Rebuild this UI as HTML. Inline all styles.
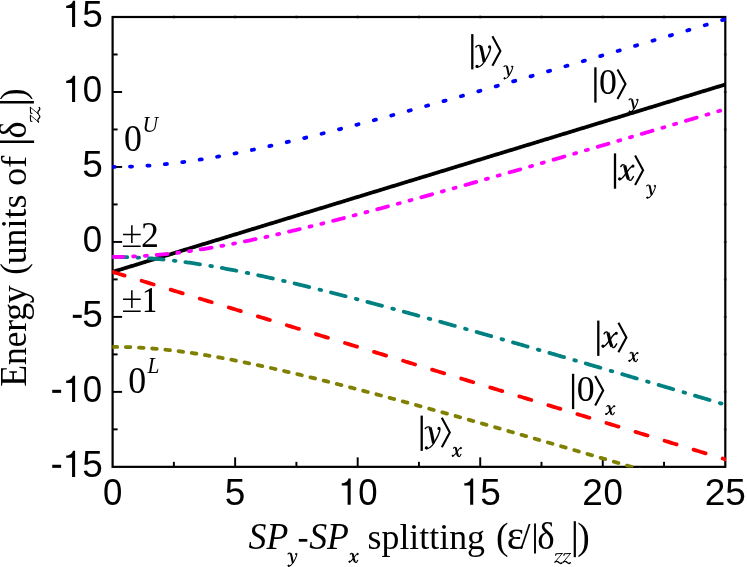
<!DOCTYPE html>
<html><head><meta charset="utf-8"><title>chart</title>
<style>
html,body{margin:0;padding:0;background:#fff;}
body{width:747px;height:567px;overflow:hidden;}
svg{display:block;will-change:transform;}
.sans{font-family:"Liberation Sans",sans-serif;}
.serif{font-family:"Liberation Serif",serif;}
.it{font-style:italic;}
</style></head><body>
<svg width="747" height="567" viewBox="0 0 747 567">
<rect x="0" y="0" width="747" height="567" fill="#ffffff"/>
<defs><g id="gx" fill="none" stroke="#000" stroke-linecap="round" stroke-linejoin="round"><path d="M2.2 -13.9 C3.0 -15.4 4.4 -16.0 5.8 -15.3" stroke-width="1.45"/><path d="M6.0 -14.9 C7.1 -12.3 7.3 -9.0 8.1 -6.4 C8.7 -4.2 9.2 -2.6 10.0 -1.3" stroke-width="3.20" stroke-linecap="butt"/><path d="M9.4 -2.4 C10.3 0.3 12.0 0.4 13.1 -1.2 L14.8 -3.9" stroke-width="1.45"/><path d="M14.2 -14.4 C12.0 -14.0 10.5 -11.5 8.3 -8.3 C6.0 -5.0 4.0 -2.0 1.2 -0.8" stroke-width="1.45"/><circle cx="14.4" cy="-14.4" r="0.95" stroke-width="1.2" fill="#000"/><circle cx="1.0" cy="-1.6" r="1.00" stroke-width="1.2" fill="#000"/></g><g id="gy" fill="none" stroke="#000" stroke-linecap="round" stroke-linejoin="round"><path d="M0.0 -14.2 C1.0 -15.6 2.6 -16.2 4.4 -15.5" stroke-width="1.45"/><path d="M4.7 -15.2 C6.2 -11.5 7.0 -5.0 8.3 0.6" stroke-width="3.10" stroke-linecap="butt"/><path d="M14.6 -13.0 C14.2 -9.5 11.0 -3.5 8.3 0.8 C6.5 3.6 4.0 5.8 1.4 5.9" stroke-width="1.40"/><circle cx="13.7" cy="-14.3" r="1.00" stroke-width="1.2" fill="#000"/><circle cx="1.1" cy="5.2" r="1.05" stroke-width="1.2" fill="#000"/></g><g id="gxs" fill="none" stroke="#000" stroke-linecap="round" stroke-linejoin="round"><path d="M2.2 -13.9 C3.0 -15.4 4.4 -16.0 5.8 -15.3" stroke-width="1.74"/><path d="M6.0 -14.9 C7.1 -12.3 7.3 -9.0 8.1 -6.4 C8.7 -4.2 9.2 -2.6 10.0 -1.3" stroke-width="3.46" stroke-linecap="butt"/><path d="M9.4 -2.4 C10.3 0.3 12.0 0.4 13.1 -1.2 L14.8 -3.9" stroke-width="1.74"/><path d="M14.2 -14.4 C12.0 -14.0 10.5 -11.5 8.3 -8.3 C6.0 -5.0 4.0 -2.0 1.2 -0.8" stroke-width="1.74"/><circle cx="14.4" cy="-14.4" r="1.14" stroke-width="1.2" fill="#000"/><circle cx="1.0" cy="-1.6" r="1.20" stroke-width="1.2" fill="#000"/></g><g id="gys" fill="none" stroke="#000" stroke-linecap="round" stroke-linejoin="round"><path d="M0.0 -14.2 C1.0 -15.6 2.6 -16.2 4.4 -15.5" stroke-width="1.74"/><path d="M4.7 -15.2 C6.2 -11.5 7.0 -5.0 8.3 0.6" stroke-width="3.35" stroke-linecap="butt"/><path d="M14.6 -13.0 C14.2 -9.5 11.0 -3.5 8.3 0.8 C6.5 3.6 4.0 5.8 1.4 5.9" stroke-width="1.68"/><circle cx="13.7" cy="-14.3" r="1.20" stroke-width="1.2" fill="#000"/><circle cx="1.1" cy="5.2" r="1.26" stroke-width="1.2" fill="#000"/></g><g id="gz" fill="none" stroke="#000" stroke-linecap="round" stroke-linejoin="round"><path d="M1.0 -7.7 L1.5 -9.2 L7.5 -9.4" stroke-width="1.15"/><path d="M7.5 -9.3 L0.4 -0.8" stroke-width="0.85"/><path d="M0.4 -0.8 C1.5 -1.9 3.0 -1.7 4.2 -0.5 C5.2 0.6 6.3 1.0 7.4 -0.1" stroke-width="1.35"/></g><clipPath id="c1"><rect x="3.6" y="-30" width="10.6" height="32"/></clipPath><clipPath id="cp"><rect x="112.40" y="16.20" width="613.70" height="451.30"/></clipPath></defs>

<g stroke="#000" fill="none" stroke-width="2.20">
<rect x="112.60" y="17.00" width="612.70" height="449.85"/>
</g>
<g stroke="#000" stroke-width="1.95">
<line x1="112.60" y1="429.36" x2="117.60" y2="429.36"/>
<line x1="723.80" y1="429.36" x2="726.80" y2="429.36" stroke-opacity="0.45"/>
<line x1="112.60" y1="391.88" x2="122.10" y2="391.88"/>
<line x1="723.80" y1="391.88" x2="726.80" y2="391.88" stroke-opacity="0.45"/>
<line x1="112.60" y1="354.39" x2="117.60" y2="354.39"/>
<line x1="723.80" y1="354.39" x2="726.80" y2="354.39" stroke-opacity="0.45"/>
<line x1="112.60" y1="316.90" x2="122.10" y2="316.90"/>
<line x1="723.80" y1="316.90" x2="726.80" y2="316.90" stroke-opacity="0.45"/>
<line x1="112.60" y1="279.41" x2="117.60" y2="279.41"/>
<line x1="723.80" y1="279.41" x2="726.80" y2="279.41" stroke-opacity="0.45"/>
<line x1="112.60" y1="241.93" x2="122.10" y2="241.93"/>
<line x1="723.80" y1="241.93" x2="726.80" y2="241.93" stroke-opacity="0.45"/>
<line x1="112.60" y1="204.44" x2="117.60" y2="204.44"/>
<line x1="723.80" y1="204.44" x2="726.80" y2="204.44" stroke-opacity="0.45"/>
<line x1="112.60" y1="166.95" x2="122.10" y2="166.95"/>
<line x1="723.80" y1="166.95" x2="726.80" y2="166.95" stroke-opacity="0.45"/>
<line x1="112.60" y1="129.46" x2="117.60" y2="129.46"/>
<line x1="723.80" y1="129.46" x2="726.80" y2="129.46" stroke-opacity="0.45"/>
<line x1="112.60" y1="91.98" x2="122.10" y2="91.98"/>
<line x1="723.80" y1="91.98" x2="726.80" y2="91.98" stroke-opacity="0.45"/>
<line x1="112.60" y1="54.49" x2="117.60" y2="54.49"/>
<line x1="723.80" y1="54.49" x2="726.80" y2="54.49" stroke-opacity="0.45"/>
<line x1="173.87" y1="466.85" x2="173.87" y2="461.85"/>
<line x1="173.87" y1="15.50" x2="173.87" y2="18.50" stroke-opacity="0.45"/>
<line x1="235.14" y1="466.85" x2="235.14" y2="457.35"/>
<line x1="235.14" y1="15.50" x2="235.14" y2="18.50" stroke-opacity="0.45"/>
<line x1="296.41" y1="466.85" x2="296.41" y2="461.85"/>
<line x1="296.41" y1="15.50" x2="296.41" y2="18.50" stroke-opacity="0.45"/>
<line x1="357.68" y1="466.85" x2="357.68" y2="457.35"/>
<line x1="357.68" y1="15.50" x2="357.68" y2="18.50" stroke-opacity="0.45"/>
<line x1="418.95" y1="466.85" x2="418.95" y2="461.85"/>
<line x1="418.95" y1="15.50" x2="418.95" y2="18.50" stroke-opacity="0.45"/>
<line x1="480.22" y1="466.85" x2="480.22" y2="457.35"/>
<line x1="480.22" y1="15.50" x2="480.22" y2="18.50" stroke-opacity="0.45"/>
<line x1="541.49" y1="466.85" x2="541.49" y2="461.85"/>
<line x1="541.49" y1="15.50" x2="541.49" y2="18.50" stroke-opacity="0.45"/>
<line x1="602.76" y1="466.85" x2="602.76" y2="457.35"/>
<line x1="602.76" y1="15.50" x2="602.76" y2="18.50" stroke-opacity="0.45"/>
<line x1="664.03" y1="466.85" x2="664.03" y2="461.85"/>
<line x1="664.03" y1="15.50" x2="664.03" y2="18.50" stroke-opacity="0.45"/>
</g>
<g clip-path="url(#cp)" fill="none" stroke-linecap="round" stroke-linejoin="round" stroke-width="3.80">
<path d="M112.60 271.92 L114.60 271.30 L116.59 270.69 L118.59 270.08 L120.58 269.47 L122.58 268.86 L124.57 268.25 L126.57 267.64 L128.57 267.03 L130.56 266.42 L132.56 265.81 L134.55 265.20 L136.55 264.59 L138.54 263.98 L140.54 263.37 L142.54 262.76 L144.53 262.15 L146.53 261.54 L148.52 260.93 L150.52 260.31 L152.52 259.70 L154.51 259.09 L156.51 258.48 L158.50 257.87 L160.50 257.26 L162.49 256.65 L164.49 256.04 L166.49 255.43 L168.48 254.82 L170.48 254.21 L172.47 253.60 L174.47 252.99 L176.46 252.38 L178.46 251.77 L180.46 251.16 L182.45 250.55 L184.45 249.94 L186.44 249.32 L188.44 248.71 L190.43 248.10 L192.43 247.49 L194.43 246.88 L196.42 246.27 L198.42 245.66 L200.41 245.05 L202.41 244.44 L204.41 243.83 L206.40 243.22 L208.40 242.61 L210.39 242.00 L212.39 241.39 L214.38 240.78 L216.38 240.17 L218.38 239.56 L220.37 238.95 L222.37 238.33 L224.36 237.72 L226.36 237.11 L228.35 236.50 L230.35 235.89 L232.35 235.28 L234.34 234.67 L236.34 234.06 L238.33 233.45 L240.33 232.84 L242.32 232.23 L244.32 231.62 L246.32 231.01 L248.31 230.40 L250.31 229.79 L252.30 229.18 L254.30 228.57 L256.30 227.96 L258.29 227.35 L260.29 226.73 L262.28 226.12 L264.28 225.51 L266.27 224.90 L268.27 224.29 L270.27 223.68 L272.26 223.07 L274.26 222.46 L276.25 221.85 L278.25 221.24 L280.24 220.63 L282.24 220.02 L284.24 219.41 L286.23 218.80 L288.23 218.19 L290.22 217.58 L292.22 216.97 L294.21 216.36 L296.21 215.74 L298.21 215.13 L300.20 214.52 L302.20 213.91 L304.19 213.30 L306.19 212.69 L308.19 212.08 L310.18 211.47 L312.18 210.86 L314.17 210.25 L316.17 209.64 L318.16 209.03 L320.16 208.42 L322.16 207.81 L324.15 207.20 L326.15 206.59 L328.14 205.98 L330.14 205.37 L332.13 204.75 L334.13 204.14 L336.13 203.53 L338.12 202.92 L340.12 202.31 L342.11 201.70 L344.11 201.09 L346.10 200.48 L348.10 199.87 L350.10 199.26 L352.09 198.65 L354.09 198.04 L356.08 197.43 L358.08 196.82 L360.07 196.21 L362.07 195.60 L364.07 194.99 L366.06 194.38 L368.06 193.77 L370.05 193.15 L372.05 192.54 L374.05 191.93 L376.04 191.32 L378.04 190.71 L380.03 190.10 L382.03 189.49 L384.02 188.88 L386.02 188.27 L388.02 187.66 L390.01 187.05 L392.01 186.44 L394.00 185.83 L396.00 185.22 L397.99 184.61 L399.99 184.00 L401.99 183.39 L403.98 182.78 L405.98 182.16 L407.97 181.55 L409.97 180.94 L411.96 180.33 L413.96 179.72 L415.96 179.11 L417.95 178.50 L419.95 177.89 L421.94 177.28 L423.94 176.67 L425.94 176.06 L427.93 175.45 L429.93 174.84 L431.92 174.23 L433.92 173.62 L435.91 173.01 L437.91 172.40 L439.91 171.79 L441.90 171.17 L443.90 170.56 L445.89 169.95 L447.89 169.34 L449.88 168.73 L451.88 168.12 L453.88 167.51 L455.87 166.90 L457.87 166.29 L459.86 165.68 L461.86 165.07 L463.85 164.46 L465.85 163.85 L467.85 163.24 L469.84 162.63 L471.84 162.02 L473.83 161.41 L475.83 160.80 L477.83 160.19 L479.82 159.57 L481.82 158.96 L483.81 158.35 L485.81 157.74 L487.80 157.13 L489.80 156.52 L491.80 155.91 L493.79 155.30 L495.79 154.69 L497.78 154.08 L499.78 153.47 L501.77 152.86 L503.77 152.25 L505.77 151.64 L507.76 151.03 L509.76 150.42 L511.75 149.81 L513.75 149.20 L515.74 148.58 L517.74 147.97 L519.74 147.36 L521.73 146.75 L523.73 146.14 L525.72 145.53 L527.72 144.92 L529.71 144.31 L531.71 143.70 L533.71 143.09 L535.70 142.48 L537.70 141.87 L539.69 141.26 L541.69 140.65 L543.69 140.04 L545.68 139.43 L547.68 138.82 L549.67 138.21 L551.67 137.59 L553.66 136.98 L555.66 136.37 L557.66 135.76 L559.65 135.15 L561.65 134.54 L563.64 133.93 L565.64 133.32 L567.63 132.71 L569.63 132.10 L571.63 131.49 L573.62 130.88 L575.62 130.27 L577.61 129.66 L579.61 129.05 L581.60 128.44 L583.60 127.83 L585.60 127.22 L587.59 126.61 L589.59 125.99 L591.58 125.38 L593.58 124.77 L595.58 124.16 L597.57 123.55 L599.57 122.94 L601.56 122.33 L603.56 121.72 L605.55 121.11 L607.55 120.50 L609.55 119.89 L611.54 119.28 L613.54 118.67 L615.53 118.06 L617.53 117.45 L619.52 116.84 L621.52 116.23 L623.52 115.62 L625.51 115.00 L627.51 114.39 L629.50 113.78 L631.50 113.17 L633.49 112.56 L635.49 111.95 L637.49 111.34 L639.48 110.73 L641.48 110.12 L643.47 109.51 L645.47 108.90 L647.47 108.29 L649.46 107.68 L651.46 107.07 L653.45 106.46 L655.45 105.85 L657.44 105.24 L659.44 104.63 L661.44 104.01 L663.43 103.40 L665.43 102.79 L667.42 102.18 L669.42 101.57 L671.41 100.96 L673.41 100.35 L675.41 99.74 L677.40 99.13 L679.40 98.52 L681.39 97.91 L683.39 97.30 L685.38 96.69 L687.38 96.08 L689.38 95.47 L691.37 94.86 L693.37 94.25 L695.36 93.64 L697.36 93.03 L699.36 92.41 L701.35 91.80 L703.35 91.19 L705.34 90.58 L707.34 89.97 L709.33 89.36 L711.33 88.75 L713.33 88.14 L715.32 87.53 L717.32 86.92 L719.31 86.31 L721.31 85.70 L723.30 85.09 L725.30 84.48" stroke="#000000" stroke-linecap="butt"/>
<path d="M112.60 271.92 L114.10 272.37 L115.60 272.83 L117.10 273.29 L118.60 273.75 L120.10 274.21 L121.60 274.67 L123.10 275.13 L124.60 275.59 M141.65 280.80 L143.15 281.26 L144.65 281.72 L146.15 282.18 L147.65 282.64 L149.15 283.10 L150.65 283.56 L152.15 284.01 L153.65 284.47 M170.70 289.69 L172.20 290.15 L173.70 290.61 L175.20 291.07 L176.70 291.52 L178.20 291.98 L179.70 292.44 L181.20 292.90 L182.70 293.36 M199.75 298.58 L201.25 299.03 L202.75 299.49 L204.25 299.95 L205.75 300.41 L207.25 300.87 L208.75 301.33 L210.25 301.79 L211.75 302.25 M228.80 307.46 L230.30 307.92 L231.80 308.38 L233.30 308.84 L234.80 309.30 L236.30 309.76 L237.80 310.22 L239.30 310.68 L240.80 311.13 M257.85 316.35 L259.35 316.81 L260.85 317.27 L262.35 317.73 L263.85 318.19 L265.35 318.64 L266.85 319.10 L268.35 319.56 L269.85 320.02 M286.90 325.24 L288.40 325.70 L289.90 326.15 L291.40 326.61 L292.90 327.07 L294.40 327.53 L295.90 327.99 L297.40 328.45 L298.90 328.91 M315.95 334.12 L317.45 334.58 L318.95 335.04 L320.45 335.50 L321.95 335.96 L323.45 336.42 L324.95 336.88 L326.45 337.34 L327.95 337.79 M345.00 343.01 L346.50 343.47 L348.00 343.93 L349.50 344.39 L351.00 344.85 L352.50 345.31 L354.00 345.76 L355.50 346.22 L357.00 346.68 M374.05 351.90 L375.55 352.36 L377.05 352.82 L378.55 353.27 L380.05 353.73 L381.55 354.19 L383.05 354.65 L384.55 355.11 L386.05 355.57 M403.10 360.78 L404.60 361.24 L406.10 361.70 L407.60 362.16 L409.10 362.62 L410.60 363.08 L412.10 363.54 L413.60 364.00 L415.10 364.46 M432.15 369.67 L433.65 370.13 L435.15 370.59 L436.65 371.05 L438.15 371.51 L439.65 371.97 L441.15 372.43 L442.65 372.88 L444.15 373.34 M461.20 378.56 L462.70 379.02 L464.20 379.48 L465.70 379.94 L467.20 380.39 L468.70 380.85 L470.20 381.31 L471.70 381.77 L473.20 382.23 M490.25 387.45 L491.75 387.90 L493.25 388.36 L494.75 388.82 L496.25 389.28 L497.75 389.74 L499.25 390.20 L500.75 390.66 L502.25 391.12 M519.30 396.33 L520.80 396.79 L522.30 397.25 L523.80 397.71 L525.30 398.17 L526.80 398.63 L528.30 399.09 L529.80 399.55 L531.30 400.00 M548.35 405.22 L549.85 405.68 L551.35 406.14 L552.85 406.60 L554.35 407.06 L555.85 407.51 L557.35 407.97 L558.85 408.43 L560.35 408.89 M577.40 414.11 L578.90 414.57 L580.40 415.02 L581.90 415.48 L583.40 415.94 L584.90 416.40 L586.40 416.86 L587.90 417.32 L589.40 417.78 M606.45 422.99 L607.95 423.45 L609.45 423.91 L610.95 424.37 L612.45 424.83 L613.95 425.29 L615.45 425.75 L616.95 426.21 L618.45 426.66 M635.50 431.88 L637.00 432.34 L638.50 432.80 L640.00 433.26 L641.50 433.72 L643.00 434.18 L644.50 434.63 L646.00 435.09 L647.50 435.55 M664.55 440.77 L666.05 441.23 L667.55 441.69 L669.05 442.14 L670.55 442.60 L672.05 443.06 L673.55 443.52 L675.05 443.98 L676.55 444.44 M693.60 449.65 L695.10 450.11 L696.60 450.57 L698.10 451.03 L699.60 451.49 L701.10 451.95 L702.60 452.41 L704.10 452.87 L705.60 453.33 M722.65 458.54 L723.98 458.95 L725.30 459.35" stroke="#ff0000"/>
<path d="M112.60 166.95 L113.65 166.95 L114.70 166.95 M130.01 166.64 L131.06 166.60 L132.11 166.56 M147.43 165.71 L148.48 165.63 L149.53 165.55 M164.84 164.20 L165.89 164.09 L166.94 163.98 M182.26 162.16 L183.31 162.02 L184.36 161.88 M199.67 159.65 L200.72 159.49 L201.77 159.32 M217.09 156.75 L218.14 156.56 L219.19 156.37 M234.50 153.50 L235.56 153.30 L236.60 153.09 M251.92 149.97 L252.97 149.74 L254.02 149.52 M269.33 146.19 L270.38 145.95 L271.44 145.72 M286.75 142.21 L287.80 141.96 L288.85 141.71 M304.16 138.06 L305.21 137.80 L306.26 137.55 M321.58 133.76 L322.63 133.50 L323.68 133.24 M339.00 129.35 L340.05 129.08 L341.10 128.81 M356.41 124.83 L357.46 124.56 L358.51 124.28 M373.82 120.23 L374.87 119.95 L375.92 119.67 M391.24 115.55 L392.29 115.27 L393.34 114.98 M408.65 110.81 L409.70 110.52 L410.75 110.23 M426.07 106.01 L427.12 105.72 L428.17 105.43 M443.49 101.16 L444.54 100.87 L445.59 100.58 M460.90 96.28 L461.95 95.98 L463.00 95.68 M478.31 91.35 L479.36 91.05 L480.41 90.75 M495.73 86.39 L496.78 86.09 L497.83 85.79 M513.14 81.40 L514.19 81.10 L515.25 80.80 M530.56 76.39 L531.61 76.09 L532.66 75.78 M547.98 71.35 L549.03 71.05 L550.08 70.74 M565.39 66.30 L566.44 65.99 L567.49 65.68 M582.80 61.22 L583.86 60.91 L584.90 60.61 M600.22 56.13 L601.27 55.82 L602.32 55.51 M617.63 51.02 L618.68 50.71 L619.74 50.40 M635.05 45.90 L636.10 45.59 L637.15 45.28 M652.47 40.76 L653.52 40.45 L654.57 40.14 M669.88 35.62 L670.93 35.31 L671.98 35.00 M687.29 30.46 L688.35 30.15 L689.39 29.84 M704.71 25.29 L705.76 24.98 L706.81 24.67 M722.12 20.12 L723.17 19.81 L724.23 19.49" stroke="#0000ff"/>
<path d="M112.60 256.92 L114.06 256.92 L115.52 256.93 L116.98 256.94 L118.44 256.96 L119.90 256.98 L121.36 257.00 L122.82 257.03 L124.28 257.06 L125.74 257.10 L127.20 257.14 M137.50 257.56 L138.30 257.60 L139.10 257.64 M149.00 258.28 L150.46 258.39 L151.92 258.50 L153.38 258.62 L154.84 258.74 L156.30 258.86 L157.76 258.99 L159.22 259.13 L160.68 259.26 L162.14 259.40 L163.60 259.55 M173.90 260.67 L174.70 260.77 L175.50 260.86 M185.40 262.13 L186.86 262.33 L188.32 262.53 L189.78 262.74 L191.24 262.95 L192.70 263.16 L194.16 263.38 L195.62 263.59 L197.08 263.82 L198.54 264.04 L200.00 264.27 M210.30 265.94 L211.10 266.08 L211.90 266.22 M221.80 267.97 L223.26 268.23 L224.72 268.50 L226.18 268.78 L227.64 269.05 L229.10 269.33 L230.56 269.61 L232.02 269.89 L233.48 270.17 L234.94 270.45 L236.40 270.74 M246.70 272.82 L247.50 272.98 L248.30 273.15 M258.20 275.24 L259.66 275.56 L261.12 275.87 L262.58 276.19 L264.04 276.51 L265.50 276.83 L266.96 277.15 L268.42 277.48 L269.88 277.80 L271.34 278.13 L272.80 278.46 M283.10 280.81 L283.90 281.00 L284.70 281.18 M294.60 283.51 L296.06 283.86 L297.52 284.21 L298.98 284.56 L300.44 284.91 L301.90 285.27 L303.36 285.62 L304.82 285.97 L306.28 286.33 L307.74 286.68 L309.20 287.04 M319.50 289.59 L320.30 289.79 L321.10 289.99 M331.00 292.48 L332.46 292.85 L333.92 293.22 L335.38 293.60 L336.84 293.97 L338.30 294.34 L339.76 294.72 L341.22 295.09 L342.68 295.47 L344.14 295.85 L345.60 296.22 M355.90 298.90 L356.70 299.11 L357.50 299.32 M367.40 301.93 L368.86 302.32 L370.32 302.71 L371.78 303.10 L373.24 303.48 L374.70 303.87 L376.16 304.26 L377.62 304.65 L379.08 305.04 L380.54 305.44 L382.00 305.83 M392.30 308.61 L393.10 308.82 L393.90 309.04 M403.80 311.73 L405.26 312.13 L406.72 312.53 L408.18 312.93 L409.64 313.33 L411.10 313.73 L412.56 314.13 L414.02 314.53 L415.48 314.94 L416.94 315.34 L418.40 315.74 M428.70 318.59 L429.50 318.81 L430.30 319.03 M440.20 321.79 L441.66 322.20 L443.12 322.60 L444.58 323.01 L446.04 323.42 L447.50 323.83 L448.96 324.24 L450.42 324.65 L451.88 325.06 L453.34 325.47 L454.80 325.88 M465.10 328.78 L465.90 329.00 L466.70 329.23 M476.60 332.03 L478.06 332.45 L479.52 332.86 L480.98 333.28 L482.44 333.69 L483.90 334.11 L485.36 334.52 L486.82 334.94 L488.28 335.35 L489.74 335.77 L491.20 336.19 M501.50 339.13 L502.30 339.36 L503.10 339.59 M513.00 342.42 L514.46 342.84 L515.92 343.26 L517.38 343.68 L518.84 344.10 L520.30 344.52 L521.76 344.94 L523.22 345.36 L524.68 345.78 L526.14 346.21 L527.60 346.63 M537.90 349.60 L538.70 349.83 L539.50 350.06 M549.40 352.93 L550.86 353.35 L552.32 353.78 L553.78 354.20 L555.24 354.62 L556.70 355.05 L558.16 355.47 L559.62 355.90 L561.08 356.32 L562.54 356.75 L564.00 357.17 M574.30 360.17 L575.10 360.40 L575.90 360.64 M585.80 363.53 L587.26 363.95 L588.72 364.38 L590.18 364.81 L591.64 365.23 L593.10 365.66 L594.56 366.09 L596.02 366.51 L597.48 366.94 L598.94 367.37 L600.40 367.80 M610.70 370.82 L611.50 371.05 L612.30 371.29 M622.20 374.19 L623.66 374.62 L625.12 375.05 L626.58 375.48 L628.04 375.91 L629.50 376.34 L630.96 376.77 L632.42 377.20 L633.88 377.63 L635.34 378.06 L636.80 378.49 M647.10 381.52 L647.90 381.76 L648.70 382.00 M658.60 384.92 L660.06 385.35 L661.52 385.78 L662.98 386.21 L664.44 386.64 L665.90 387.08 L667.36 387.51 L668.82 387.94 L670.28 388.37 L671.74 388.80 L673.20 389.24 M683.50 392.29 L684.30 392.52 L685.10 392.76 M695.00 395.69 L696.46 396.13 L697.92 396.56 L699.38 396.99 L700.84 397.43 L702.30 397.86 L703.76 398.29 L705.22 398.73 L706.68 399.16 L708.14 399.59 L709.60 400.03 M719.90 403.09 L720.70 403.33 L721.50 403.56" stroke="#008080"/>
<path d="M112.60 256.92 L113.95 256.92 L115.30 256.91 L116.65 256.90 L118.00 256.89 L119.35 256.87 L120.70 256.85 L122.05 256.83 L123.40 256.80 M133.15 256.48 L134.15 256.44 L135.15 256.39 M144.90 255.85 L145.90 255.78 L146.90 255.71 M156.70 254.94 L158.05 254.82 L159.40 254.70 L160.75 254.57 L162.10 254.44 L163.45 254.31 L164.80 254.17 L166.15 254.03 L167.50 253.89 M177.25 252.76 L178.25 252.64 L179.25 252.51 M189.00 251.21 L190.00 251.07 L191.00 250.93 M200.80 249.45 L202.15 249.23 L203.50 249.02 L204.85 248.80 L206.20 248.58 L207.55 248.36 L208.90 248.13 L210.25 247.90 L211.60 247.67 M221.35 245.95 L222.35 245.77 L223.35 245.59 M233.10 243.75 L234.10 243.55 L235.10 243.36 M244.90 241.39 L246.25 241.12 L247.60 240.84 L248.95 240.56 L250.30 240.28 L251.65 239.99 L253.00 239.71 L254.35 239.42 L255.70 239.13 M265.45 237.02 L266.45 236.80 L267.45 236.58 M277.20 234.38 L278.20 234.15 L279.20 233.93 M289.00 231.65 L290.35 231.33 L291.70 231.01 L293.05 230.69 L294.40 230.37 L295.75 230.05 L297.10 229.73 L298.45 229.41 L299.80 229.08 M309.55 226.71 L310.55 226.47 L311.55 226.22 M321.30 223.80 L322.30 223.55 L323.30 223.30 M333.10 220.83 L334.45 220.48 L335.80 220.14 L337.15 219.79 L338.50 219.45 L339.85 219.10 L341.20 218.75 L342.55 218.40 L343.90 218.06 M353.65 215.52 L354.65 215.26 L355.65 215.00 M365.40 212.44 L366.40 212.17 L367.40 211.91 M377.20 209.30 L378.55 208.94 L379.90 208.58 L381.25 208.21 L382.60 207.85 L383.95 207.49 L385.30 207.12 L386.65 206.76 L388.00 206.40 M397.75 203.76 L398.75 203.48 L399.75 203.21 M409.50 200.55 L410.50 200.27 L411.50 200.00 M421.30 197.30 L422.65 196.93 L424.00 196.55 L425.35 196.18 L426.70 195.81 L428.05 195.43 L429.40 195.06 L430.75 194.68 L432.10 194.31 M441.85 191.59 L442.85 191.31 L443.85 191.03 M453.60 188.30 L454.60 188.02 L455.60 187.74 M465.40 184.98 L466.75 184.60 L468.10 184.21 L469.45 183.83 L470.80 183.45 L472.15 183.07 L473.50 182.69 L474.85 182.30 L476.20 181.92 M485.95 179.15 L486.95 178.87 L487.95 178.58 M497.70 175.80 L498.70 175.51 L499.70 175.23 M509.50 172.42 L510.85 172.03 L512.20 171.64 L513.55 171.26 L514.90 170.87 L516.25 170.48 L517.60 170.09 L518.95 169.71 L520.30 169.32 M530.05 166.51 L531.05 166.22 L532.05 165.93 M541.80 163.11 L542.80 162.82 L543.80 162.53 M553.60 159.69 L554.95 159.30 L556.30 158.91 L557.65 158.52 L559.00 158.12 L560.35 157.73 L561.70 157.34 L563.05 156.95 L564.40 156.55 M574.15 153.71 L575.15 153.42 L576.15 153.13 M585.90 150.29 L586.90 149.99 L587.90 149.70 M597.70 146.83 L599.05 146.44 L600.40 146.04 L601.75 145.65 L603.10 145.25 L604.45 144.86 L605.80 144.46 L607.15 144.07 L608.50 143.67 M618.25 140.81 L619.25 140.51 L620.25 140.22 M630.00 137.35 L631.00 137.06 L632.00 136.76 M641.80 133.88 L643.15 133.48 L644.50 133.08 L645.85 132.68 L647.20 132.29 L648.55 131.89 L649.90 131.49 L651.25 131.09 L652.60 130.69 M662.35 127.81 L663.35 127.52 L664.35 127.22 M674.10 124.34 L675.10 124.04 L676.10 123.75 M685.90 120.84 L687.25 120.44 L688.60 120.04 L689.95 119.64 L691.30 119.24 L692.65 118.84 L694.00 118.44 L695.35 118.04 L696.70 117.64 M706.45 114.75 L707.45 114.45 L708.45 114.15 M718.20 111.26 L719.20 110.96 L720.20 110.66" stroke="#ff00ff"/>
<path d="M112.60 346.89 L113.75 346.89 L114.90 346.90 L116.05 346.90 L117.20 346.91 M125.79 347.07 L126.94 347.10 L128.09 347.14 L129.24 347.18 L130.39 347.22 M138.98 347.61 L140.13 347.67 L141.28 347.74 L142.43 347.81 L143.58 347.88 M152.17 348.49 L153.32 348.58 L154.47 348.68 L155.62 348.78 L156.77 348.88 M165.36 349.70 L166.51 349.82 L167.66 349.94 L168.81 350.06 L169.96 350.19 M178.55 351.21 L179.70 351.35 L180.85 351.50 L182.00 351.65 L183.15 351.80 M191.74 352.99 L192.89 353.16 L194.04 353.33 L195.19 353.50 L196.34 353.67 M204.93 355.02 L206.08 355.21 L207.23 355.40 L208.38 355.59 L209.53 355.78 M218.12 357.27 L219.27 357.48 L220.42 357.69 L221.57 357.90 L222.72 358.11 M231.31 359.72 L232.46 359.94 L233.61 360.16 L234.76 360.39 L235.91 360.61 M244.50 362.34 L245.65 362.57 L246.80 362.81 L247.95 363.05 L249.10 363.28 M257.69 365.10 L258.84 365.35 L259.99 365.60 L261.14 365.85 L262.29 366.10 M270.88 368.00 L272.03 368.26 L273.18 368.51 L274.33 368.77 L275.48 369.04 M284.07 371.01 L285.22 371.28 L286.37 371.54 L287.52 371.81 L288.67 372.08 M297.26 374.12 L298.41 374.39 L299.56 374.67 L300.71 374.95 L301.86 375.23 M310.45 377.32 L311.60 377.60 L312.75 377.88 L313.90 378.17 L315.05 378.45 M323.64 380.59 L324.79 380.88 L325.94 381.17 L327.09 381.46 L328.24 381.75 M336.83 383.94 L337.98 384.23 L339.13 384.53 L340.28 384.82 L341.43 385.12 M350.02 387.34 L351.17 387.64 L352.32 387.94 L353.47 388.24 L354.62 388.54 M363.21 390.80 L364.36 391.10 L365.51 391.40 L366.66 391.71 L367.81 392.01 M376.40 394.30 L377.55 394.61 L378.70 394.91 L379.85 395.22 L381.00 395.53 M389.59 397.84 L390.74 398.15 L391.89 398.46 L393.04 398.78 L394.19 399.09 M402.78 401.42 L403.93 401.74 L405.08 402.05 L406.23 402.37 L407.38 402.68 M415.97 405.04 L417.12 405.36 L418.27 405.67 L419.42 405.99 L420.57 406.31 M429.16 408.69 L430.31 409.00 L431.46 409.32 L432.61 409.64 L433.76 409.96 M442.35 412.36 L443.50 412.68 L444.65 413.00 L445.80 413.32 L446.95 413.64 M455.54 416.06 L456.69 416.38 L457.84 416.70 L458.99 417.03 L460.14 417.35 M468.73 419.77 L469.88 420.10 L471.03 420.43 L472.18 420.75 L473.33 421.08 M481.92 423.51 L483.07 423.84 L484.22 424.17 L485.37 424.50 L486.52 424.82 M495.11 427.27 L496.26 427.60 L497.41 427.93 L498.56 428.26 L499.71 428.59 M508.30 431.05 L509.45 431.38 L510.60 431.71 L511.75 432.04 L512.90 432.37 M521.49 434.84 L522.64 435.17 L523.79 435.50 L524.94 435.83 L526.09 436.16 M534.68 438.64 L535.83 438.97 L536.98 439.30 L538.13 439.64 L539.28 439.97 M547.87 442.46 L549.02 442.79 L550.17 443.12 L551.32 443.46 L552.47 443.79 M561.06 446.29 L562.21 446.62 L563.36 446.95 L564.51 447.29 L565.66 447.62 M574.25 450.12 L575.40 450.46 L576.55 450.80 L577.70 451.13 L578.85 451.47 M587.44 453.97 L588.59 454.31 L589.74 454.65 L590.89 454.98 L592.04 455.32 M600.63 457.83 L601.78 458.17 L602.93 458.51 L604.08 458.84 L605.23 459.18 M613.82 461.70 L614.97 462.04 L616.12 462.38 L617.27 462.71 L618.42 463.05 M627.01 465.58 L628.16 465.92 L629.31 466.25 L630.46 466.59 L631.61 466.93 M640.20 469.46 L641.35 469.80 L642.50 470.14 L643.65 470.48 L644.80 470.82 M653.39 473.35 L654.54 473.69 L655.69 474.03 L656.84 474.37 L657.99 474.71 M666.58 477.25 L667.73 477.59 L668.88 477.93 L670.03 478.27 L671.18 478.61 M679.77 481.15 L680.92 481.49 L682.07 481.83 L683.22 482.17 L684.37 482.51 M692.96 485.06 L694.11 485.40 L695.26 485.74 L696.41 486.08 L697.56 486.42 M706.15 488.97 L707.30 489.32 L708.45 489.66 L709.60 490.00 L710.75 490.34 M719.34 492.89 L720.49 493.23 L721.64 493.58 L722.79 493.92 L723.94 494.26" stroke="#808000"/>
</g>
<g class="sans" font-size="37" fill="#000">
<path d="M75.11 27.10 L75.11 0.80 L72.91 0.80 C72.41 3.20 70.51 5.20 66.21 5.70 L66.21 8.00 L72.06 8.00 L72.06 27.10 Z"/><text x="82.13" y="27.10">5</text>
<path d="M75.11 102.08 L75.11 75.78 L72.91 75.78 C72.41 78.18 70.51 80.18 66.21 80.68 L66.21 82.98 L72.06 82.98 L72.06 102.08 Z"/><text transform="translate(92.41 102.08) scale(0.94 1)" text-anchor="middle">0</text>
<text x="82.13" y="177.05">5</text>
<text transform="translate(92.41 252.03) scale(0.94 1)" text-anchor="middle">0</text>
<rect x="72.81" y="314.80" width="8.9" height="3.1"/><text x="82.13" y="327.00">5</text>
<rect x="52.23" y="389.78" width="8.9" height="3.1"/><path d="M75.11 401.98 L75.11 375.68 L72.91 375.68 C72.41 378.07 70.51 380.07 66.21 380.57 L66.21 382.88 L72.06 382.88 L72.06 401.98 Z"/><text transform="translate(92.41 401.98) scale(0.94 1)" text-anchor="middle">0</text>
<rect x="52.23" y="464.75" width="8.9" height="3.1"/><path d="M75.11 476.95 L75.11 450.65 L72.91 450.65 C72.41 453.05 70.51 455.05 66.21 455.55 L66.21 457.85 L72.06 457.85 L72.06 476.95 Z"/><text x="82.13" y="476.95">5</text>
<text transform="translate(112.60 504.70) scale(0.94 1)" text-anchor="middle">0</text>
<text x="224.85" y="504.70">5</text>
<path d="M350.66 504.70 L350.66 478.40 L348.46 478.40 C347.96 480.80 346.06 482.80 341.76 483.30 L341.76 485.60 L347.61 485.60 L347.61 504.70 Z"/><text transform="translate(367.97 504.70) scale(0.94 1)" text-anchor="middle">0</text>
<path d="M473.20 504.70 L473.20 478.40 L471.00 478.40 C470.50 480.80 468.60 482.80 464.30 483.30 L464.30 485.60 L470.15 485.60 L470.15 504.70 Z"/><text x="480.22" y="504.70">5</text>
<text x="582.19" y="504.70">2</text><text transform="translate(613.05 504.70) scale(0.94 1)" text-anchor="middle">0</text>
<text x="704.73" y="504.70">2</text><text x="725.30" y="504.70">5</text>
</g>
<g class="serif" fill="#000">
<text transform="translate(124.00 150.60) scale(1 1.030)" font-size="35.80">0</text>
<text transform="translate(142.60 132.10) scale(1 1.030)" font-size="21.50" font-style="italic">U</text>
<path d="M123.00 246.30 H140.70 M123.00 234.40 H140.70 M131.85 225.30 V243.00" stroke="#000" stroke-width="1.55" fill="none"/>
<text transform="translate(140.90 247.10) scale(1 1.000)" font-size="35.80">2</text>
<path d="M123.00 311.20 H140.70 M123.00 299.30 H140.70 M131.85 290.20 V307.90" stroke="#000" stroke-width="1.55" fill="none"/>
<text transform="translate(141.10 312.00) scale(1 1.000)" font-size="35.80" clip-path="url(#c1)">1</text>
<text transform="translate(128.30 393.40) scale(1 1.030)" font-size="35.80">0</text>
<text transform="translate(147.50 372.60) scale(1 1.030)" font-size="21.50" font-style="italic">L</text>
<line x1="472.30" y1="34.10" x2="472.30" y2="69.40" stroke="#000" stroke-width="2.3"/>
<use href="#gy" transform="translate(475.90 61.20) scale(1.0000)"/>
<polyline points="492.40,36.20 500.40,50.90 492.40,65.70" fill="none" stroke="#000" stroke-width="2.1" stroke-linejoin="miter"/>
<use href="#gys" transform="translate(503.90 75.20) scale(0.6006)"/>
<line x1="595.40" y1="67.30" x2="595.40" y2="102.60" stroke="#000" stroke-width="2.3"/>
<text transform="translate(599.00 94.40) scale(1 1.020)" font-size="35.80">0</text>
<polyline points="617.50,69.40 625.50,84.10 617.50,98.90" fill="none" stroke="#000" stroke-width="2.1" stroke-linejoin="miter"/>
<use href="#gys" transform="translate(629.00 108.40) scale(0.6006)"/>
<line x1="615.00" y1="153.40" x2="615.00" y2="188.70" stroke="#000" stroke-width="2.3"/>
<use href="#gx" transform="translate(618.60 180.50) scale(1.0000)"/>
<polyline points="635.10,155.50 643.10,170.20 635.10,185.00" fill="none" stroke="#000" stroke-width="2.1" stroke-linejoin="miter"/>
<use href="#gys" transform="translate(646.60 194.50) scale(0.6006)"/>
<line x1="598.30" y1="320.60" x2="598.30" y2="355.90" stroke="#000" stroke-width="2.3"/>
<use href="#gx" transform="translate(601.90 347.70) scale(1.0000)"/>
<polyline points="618.40,322.70 626.40,337.40 618.40,352.20" fill="none" stroke="#000" stroke-width="2.1" stroke-linejoin="miter"/>
<use href="#gxs" transform="translate(628.70 361.70) scale(0.6006)"/>
<line x1="573.10" y1="373.80" x2="573.10" y2="409.10" stroke="#000" stroke-width="2.3"/>
<text transform="translate(576.70 400.90) scale(1 1.020)" font-size="35.80">0</text>
<polyline points="595.20,375.90 603.20,390.60 595.20,405.40" fill="none" stroke="#000" stroke-width="2.1" stroke-linejoin="miter"/>
<use href="#gxs" transform="translate(605.50 414.90) scale(0.6006)"/>
<line x1="421.70" y1="415.60" x2="421.70" y2="450.90" stroke="#000" stroke-width="2.3"/>
<use href="#gy" transform="translate(425.30 442.70) scale(1.0000)"/>
<polyline points="441.80,417.70 449.80,432.40 441.80,447.20" fill="none" stroke="#000" stroke-width="2.1" stroke-linejoin="miter"/>
<use href="#gxs" transform="translate(452.10 456.70) scale(0.6006)"/>
<text transform="translate(248.60 548.60) scale(1 1.030)" font-size="35.80" font-style="italic">SP</text>
<use href="#gys" transform="translate(287.90 562.60) scale(0.6006)"/>
<rect x="298.8" y="538.95" width="8.5" height="2.75"/>
<text transform="translate(309.20 548.60) scale(1 1.030)" font-size="35.80" font-style="italic">SP</text>
<use href="#gxs" transform="translate(348.90 562.60) scale(0.6006)"/>
<text transform="translate(367.60 548.60) scale(1 1.000)" font-size="35.80">splitting</text>
<text transform="translate(496.00 548.90) scale(1 1.030)" font-size="37.59">(</text>
<text transform="translate(506.70 548.60) scale(1 1.030)" font-size="41.00">&#949;</text>
<text transform="translate(520.30 548.60) scale(1 1.030)" font-size="36.87">/</text>
<line x1="535.00" y1="523.50" x2="535.00" y2="553.60" stroke="#000" stroke-width="1.90"/>
<text transform="translate(537.30 548.90) scale(1 1.030)" font-size="37.05">&#948;</text>
<use href="#gz" transform="translate(554.6 562.90)"/><use href="#gz" transform="translate(562.9 562.90)"/>
<line x1="574.80" y1="521.20" x2="574.80" y2="557.20" stroke="#000" stroke-width="2.20"/>
<text transform="translate(577.30 548.90) scale(1 1.030)" font-size="37.59">)</text>
<text transform="translate(25.90 386.70) rotate(-90) scale(1 1.035)" font-size="35.80">E</text>
<text transform="translate(25.90 365.10) rotate(-90) scale(1 1.000)" font-size="35.80" letter-spacing="-0.25">nergy</text>
<text transform="translate(24.80 274.80) rotate(-90) scale(1 1.030)" font-size="34.80">(</text>
<text transform="translate(25.90 264.30) rotate(-90) scale(1 1.000)" font-size="35.80">units of</text>
<line x1="-1.30" y1="141.70" x2="34.10" y2="141.70" stroke="#000" stroke-width="2.40"/>
<text transform="translate(26.10 138.40) rotate(-90) scale(1 1.030)" font-size="36.16">&#948;</text>
<use href="#gz" transform="translate(39.30 122.4) rotate(-90) scale(0.95)"/><use href="#gz" transform="translate(39.30 114.5) rotate(-90) scale(0.95)"/>
<line x1="-1.30" y1="102.30" x2="33.90" y2="102.30" stroke="#000" stroke-width="2.40"/>
<text transform="translate(24.80 100.00) rotate(-90) scale(1 1.030)" font-size="34.80">)</text>
</g>
</svg></body></html>
